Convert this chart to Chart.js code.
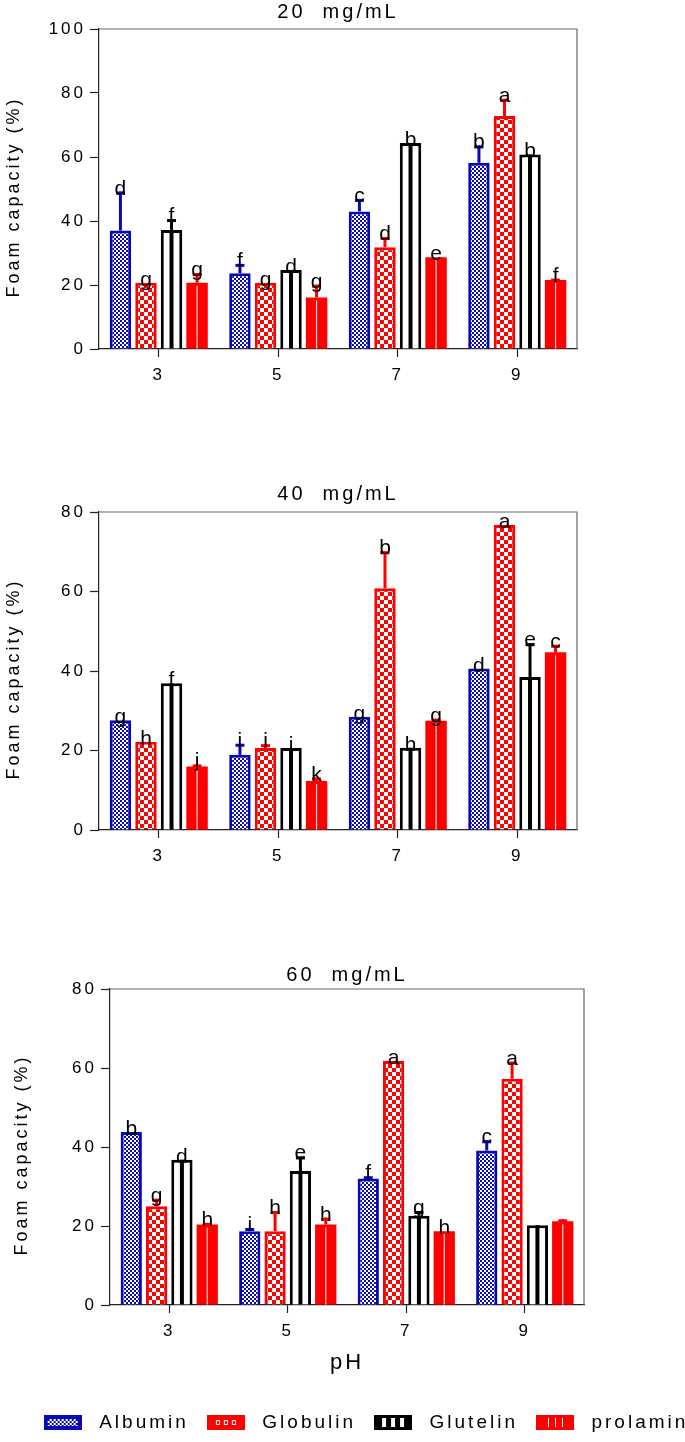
<!DOCTYPE html>
<html>
<head>
<meta charset="utf-8">
<script src="https://cdn.jsdelivr.net/npm/chart.js@4.4.1/dist/chart.umd.min.js"></script>
<style>
  html, body { margin: 0; padding: 0; background: #fff; overflow: hidden; width: 685px; height: 1442px; }
  canvas { position: absolute; left: 0; }
</style>
</head>
<body>
<canvas id="c20" width="685" height="400" style="top:0px;width:685px;height:400px"></canvas>
<canvas id="c40" width="685" height="400" style="top:480px;width:685px;height:400px"></canvas>
<canvas id="c60" width="724" height="482" style="top:960px;width:724px;height:482px"></canvas>
<script>
const phLabels = ['3', '5', '7', '9'];
const seriesNames = ['Albumin', 'Globulin', 'Glutelin', 'prolamin'];

// 20 mg/mL
const alb20 = [37.0, 23.7, 43.0, 58.2];
const glob20 = [20.7, 20.7, 31.8, 72.8];
const glut20 = [37.2, 24.7, 64.4, 60.8];
const prol20 = [20.7, 16.1, 28.7, 21.6];
const albSd20 = [12.2, 2.9, 3.9, 5.4];
const globSd20 = [0, 0, 3.2, 5.4];
const glutSd20 = [3.4, 0, 0, 0];
const prolSd20 = [3.0, 4.0, 0, 0.4];
const albLet20 = ['d', 'f', 'c', 'b'];
const globLet20 = ['g', 'g', 'd', 'a'];
const glutLet20 = ['f', 'd', 'b', 'b'];
const prolLet20 = ['g', 'g', 'e', 'f'];

// 40 mg/mL
const alb40 = [27.6, 18.9, 28.5, 40.6];
const glob40 = [22.2, 20.6, 60.8, 76.7];
const glut40 = [36.9, 20.6, 20.7, 38.5];
const prol40 = [16.0, 12.3, 27.5, 44.7];
const albSd40 = [0, 2.8, 0, 0];
const globSd40 = [0, 1.0, 9.3, 0];
const glutSd40 = [0, 0, 0, 8.5];
const prolSd40 = [0.5, 0.9, 0.5, 1.9];
const albLet40 = ['g', 'i', 'g', 'd'];
const globLet40 = ['h', 'i', 'b', 'a'];
const glutLet40 = ['f', 'i', 'h', 'e'];
const prolLet40 = ['j', 'k', 'g', 'c'];

// 60 mg/mL
const alb60 = [43.8, 18.7, 32.0, 39.1];
const glob60 = [25.0, 18.7, 61.8, 57.3];
const glut60 = [36.8, 33.9, 22.6, 20.2];
const prol60 = [20.4, 20.4, 18.7, 21.2];
const albSd60 = [0, 0.8, 0.6, 2.6];
const globSd60 = [1.9, 5.1, 0, 4.3];
const glutSd60 = [0, 3.7, 1.2, 0];
const prolSd60 = [0.4, 1.7, 0, 0.5];
const albLet60 = ['b', 'i', 'f', 'c'];
const globLet60 = ['g', 'h', 'a', 'a'];
const glutLet60 = ['d', 'e', 'g', ''];
const prolLet60 = ['h', 'h', 'h', ''];

const BLUE = '#0a0ab4';
const RED = '#ff0000';
const BLACK = '#000000';
const SPACING = '3px';
const FONT = "'Liberation Sans', Arial, sans-serif";

function tile(w, h, draw) {
    const c = document.createElement('canvas');
    c.width = w; c.height = h;
    draw(c.getContext('2d'));
    return c;
}

// bar fills
const albTile = tile(4, 4, g => {
    g.fillStyle = '#fff'; g.fillRect(0, 0, 4, 4);
    g.fillStyle = BLUE; g.fillRect(0, 0, 2, 2); g.fillRect(2, 2, 2, 2);
});
const globTile = tile(8, 8, g => {
    g.fillStyle = RED; g.fillRect(0, 0, 8, 8);
    g.fillStyle = '#fff'; g.fillRect(0, 0, 4, 4); g.fillRect(4, 4, 4, 4);
});
const pctx = document.createElement('canvas').getContext('2d');
const fills = [
    pctx.createPattern(albTile, 'repeat'),
    pctx.createPattern(globTile, 'repeat'),
    '#ffffff',
    RED
];
const borders = [BLUE, RED, BLACK, RED];

// legend swatches
const swatches = [
    tile(38, 15, g => {
        g.fillStyle = BLUE; g.fillRect(0, 0, 38, 15);
        g.fillStyle = g.createPattern(albTile, 'repeat'); g.fillRect(4, 4, 30, 7);
    }),
    tile(38, 15, g => {
        g.fillStyle = RED; g.fillRect(0, 0, 38, 15);
        g.fillStyle = '#fff';
        [9, 17, 25].forEach(x => { g.fillRect(x, 5, 4, 5); });
        g.fillStyle = RED;
        [10, 18, 26].forEach(x => { g.fillRect(x, 6, 2, 3); });
    }),
    tile(38, 15, g => {
        g.fillStyle = BLACK; g.fillRect(0, 0, 38, 15);
        g.fillStyle = '#fff';
        [8, 17, 26].forEach(x => { g.fillRect(x, 3, 4, 9); });
    }),
    tile(38, 15, g => {
        g.fillStyle = RED; g.fillRect(0, 0, 38, 15);
        g.fillStyle = '#fff';
        [12, 19, 26].forEach(x => { g.fillRect(x, 3, 1, 9); });
    })
];

const decor = {
    id: 'decor',
    beforeLayout(chart) { chart.ctx.letterSpacing = SPACING; },
    beforeDraw(chart) { chart.ctx.letterSpacing = SPACING; },
    afterDatasetsDraw(chart) {
        const ctx = chart.ctx;
        const area = chart.chartArea;
        const y = chart.scales.y;
        ctx.save();
        ctx.strokeStyle = '#666';
        ctx.lineWidth = 1.2;
        ctx.beginPath();
        ctx.moveTo(area.left, area.top);
        ctx.lineTo(area.right, area.top);
        ctx.lineTo(area.right, area.bottom);
        ctx.stroke();

        const tips = [];
        chart.data.datasets.forEach((ds, i) => {
            const meta = chart.getDatasetMeta(i);
            tips[i] = [];
            meta.data.forEach((bar, j) => {
                const top = bar.y, base = bar.base;
                if (i === 2) {
                    ctx.fillStyle = BLACK;
                    ctx.fillRect(bar.x - 2, top, 4, base - top);
                }
                if (i === 3) {
                    ctx.fillStyle = 'rgba(255,255,255,0.85)';
                    ctx.fillRect(bar.x - 0.6, top + 3, 1.2, base - top - 3);
                }
                let tip = top;
                const sd = ds.sd[j];
                if (sd > 0) {
                    tip = y.getPixelForValue(ds.data[j] + sd);
                    ctx.fillStyle = ds.borderColor;
                    ctx.fillRect(bar.x - 1.5, tip, 3, top - tip);
                    ctx.fillRect(bar.x - 4.5, tip, 9, 3);
                }
                tips[i][j] = tip;
            });
        });

        ctx.letterSpacing = '0px';
        ctx.fillStyle = '#000';
        ctx.font = '21px ' + FONT;
        ctx.textAlign = 'center';
        ctx.textBaseline = 'alphabetic';
        chart.data.datasets.forEach((ds, i) => {
            const meta = chart.getDatasetMeta(i);
            meta.data.forEach((bar, j) => {
                if (ds.letters[j]) ctx.fillText(ds.letters[j], bar.x, tips[i][j] + 3);
            });
        });
        ctx.restore();
        ctx.letterSpacing = SPACING;
    }
};

function makeChart(id, opt) {
    const values = [opt.alb, opt.glob, opt.glut, opt.prol];
    const sds = [opt.albSd, opt.globSd, opt.glutSd, opt.prolSd];
    const letters = [opt.albLet, opt.globLet, opt.glutLet, opt.prolLet];
    return new Chart(document.getElementById(id), {
        type: 'bar',
        data: {
            labels: phLabels,
            datasets: seriesNames.map((name, i) => ({
                label: name,
                data: values[i],
                sd: sds[i],
                letters: letters[i],
                backgroundColor: fills[i],
                borderColor: borders[i],
                borderWidth: i === 3 ? 0 : 3,
                borderSkipped: 'bottom',
                categoryPercentage: 0.855,
                barPercentage: 0.84
            }))
        },
        options: {
            responsive: false,
            animation: false,
            events: [],
            layout: { padding: 0 },
            plugins: {
                tooltip: { enabled: false },
                title: {
                    display: true,
                    text: opt.title,
                    fullSize: false,
                    color: '#000',
                    font: { family: FONT, size: 20, weight: 'normal' },
                    padding: opt.titlePad
                },
                legend: {
                    display: opt.legend,
                    position: 'bottom',
                    labels: {
                        color: '#000',
                        font: { family: FONT, size: 19 },
                        usePointStyle: true,
                        pointStyleWidth: 54,
                        padding: 10,
                        generateLabels: () => seriesNames.map((name, i) => ({
                            text: name,
                            pointStyle: swatches[i],
                            fillStyle: borders[i],
                            strokeStyle: borders[i],
                            lineWidth: 0,
                            fontColor: '#000',
                            datasetIndex: i
                        }))
                    }
                }
            },
            scales: {
                x: {
                    afterFit: s => { s.height = opt.xHeight; },
                    grid: { offset: false, drawOnChartArea: false, drawTicks: true, tickLength: 8, color: '#222', tickWidth: 1.2 },
                    border: { display: true, color: '#222', width: 1.2 },
                    ticks: { color: '#000', padding: 8, font: { family: FONT, size: 17 } },
                    title: {
                        display: opt.xTitle,
                        text: 'pH',
                        color: '#000',
                        font: { family: FONT, size: 22 },
                        padding: { top: 0, bottom: 26.8 }
                    }
                },
                y: {
                    min: 0,
                    max: opt.yMax,
                    afterFit: s => { s.width = opt.yWidth; },
                    grid: { drawOnChartArea: false, drawTicks: true, tickLength: 9, color: '#222', tickWidth: 1.2 },
                    border: { display: true, color: '#222', width: 1.2 },
                    ticks: { stepSize: 20, color: '#000', padding: 4, font: { family: FONT, size: 17 } },
                    title: {
                        display: true,
                        text: 'Foam capacity (%)  ',
                        color: '#000',
                        font: { family: FONT, size: 18 },
                        padding: { top: opt.yTitlePad, bottom: 0 }
                    }
                },
                // empty right-hand axis that only reserves the blank margin
                yPad: {
                    type: 'linear',
                    axis: 'y',
                    position: 'right',
                    afterFit: s => { s.width = opt.padRight; },
                    grid: { display: false },
                    border: { display: false },
                    ticks: { display: false }
                }
            }
        },
        plugins: [decor]
    });
}

makeChart('c20', {
    title: '20  mg/mL', yMax: 100,
    alb: alb20, glob: glob20, glut: glut20, prol: prol20,
    albSd: albSd20, globSd: globSd20, glutSd: glutSd20, prolSd: prolSd20,
    albLet: albLet20, globLet: globLet20, glutLet: glutLet20, prolLet: prolLet20,
    padRight: 108, yWidth: 99, xHeight: 51, yTitlePad: 3.2,
    titlePad: { top: 0, bottom: 5 }, legend: false, xTitle: false
});

makeChart('c40', {
    title: '40  mg/mL', yMax: 80,
    alb: alb40, glob: glob40, glut: glut40, prol: prol40,
    albSd: albSd40, globSd: globSd40, glutSd: glutSd40, prolSd: prolSd40,
    albLet: albLet40, globLet: globLet40, glutLet: glutLet40, prolLet: prolLet40,
    padRight: 108, yWidth: 99, xHeight: 50, yTitlePad: 3.2,
    titlePad: { top: 2, bottom: 6 }, legend: false, xTitle: false
});

makeChart('c60', {
    title: '60  mg/mL', yMax: 80,
    alb: alb60, glob: glob60, glut: glut60, prol: prol60,
    albSd: albSd60, globSd: globSd60, glutSd: glutSd60, prolSd: prolSd60,
    albLet: albLet60, globLet: globLet60, glutLet: glutLet60, prolLet: prolLet60,
    padRight: 140, yWidth: 110, xHeight: 98, yTitlePad: 11.2,
    titlePad: { top: 3, bottom: 2 }, legend: true, xTitle: true
});
</script>
</body>
</html>
